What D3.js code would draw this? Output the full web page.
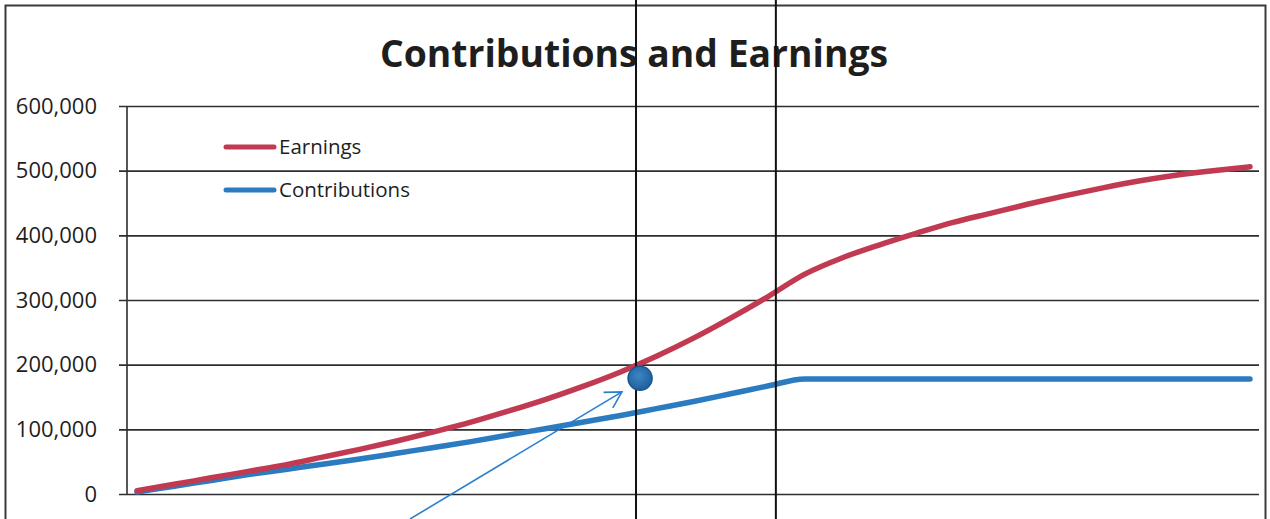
<!DOCTYPE html>
<html>
<head>
<meta charset="utf-8">
<script src="https://cdn.jsdelivr.net/npm/d3@7"></script>
<style>
  body { margin: 0; background: #fff; }
  svg { display: block; }
</style>
</head>
<body>
<script>
// yearly points (index 0..30)
var years = d3.range(0, 31);
var earnings = [5000, 15000, 25000, 35000, 45000, 57000, 69000, 82000, 96000, 111000,
  128000, 146000, 166000, 188000, 213000, 241000, 272000, 305000, 340000,
  365000, 385000, 403000, 420000, 434000, 448000, 461000, 473000, 484000, 493000, 500000, 506000];
var contributions = [3000, 12000, 21000, 30000, 38000, 46000, 54000, 63000, 72000, 81000,
  91000, 101000, 111000, 121000, 132000, 143000, 155000, 167000, 178000,
  178000, 178000, 178000, 178000, 178000, 178000, 178000, 178000, 178000, 178000, 178000, 178000];
var yTicks = [0, 100000, 200000, 300000, 400000, 500000, 600000];

// hand-drawn marks on the printout, in chart units
var markerLines = [13.45, 17.22];
var dotPoint = {x: 13.56, y: 179000};
var arrowFrom = {x: 7.36, y: -38600};
var arrowTo = {x: 13.07, y: 158000};

var width = 1270, height = 519;
var margin = {top: 106, right: 20, bottom: 25, left: 127};

var x = d3.scaleLinear().domain([0, 30]).range([137, 1250]);
var y = d3.scaleLinear().domain([0, 600000]).range([494, 106]);

var svg = d3.select("body").append("svg")
    .attr("width", width)
    .attr("height", height)
    .style("font-family", "'Open Sans', 'Noto Sans', sans-serif");

// outer border of the chart box
svg.append("rect")
    .attr("x", 5.5).attr("y", 5.5)
    .attr("width", 1260).attr("height", 540)
    .attr("fill", "none")
    .attr("stroke", "#3a3a3a")
    .attr("stroke-width", 2);

svg.append("text")
    .attr("x", 634)
    .attr("y", 67)
    .attr("text-anchor", "middle")
    .attr("font-size", 38)
    .attr("font-weight", 700)
    .attr("fill", "#1e1e1e")
    .attr("textLength", 508)
    .attr("lengthAdjust", "spacingAndGlyphs")
    .text("Contributions and Earnings");

// y axis with grid lines
var yAxis = d3.axisLeft(y)
    .tickValues(yTicks)
    .tickSize(-(1259 - margin.left))
    .tickPadding(30)
    .tickFormat(d3.format(","));

svg.append("g")
    .attr("transform", "translate(" + margin.left + ",0)")
    .call(yAxis)
    .call(g => g.select(".domain").remove())
    .call(g => g.selectAll(".tick line")
        .attr("x1", -8)
        .attr("stroke", "#2e2e2e")
        .attr("stroke-width", 1.6))
    .call(g => g.selectAll(".tick text")
        .attr("font-size", 22)
        .attr("fill", "#1e1e1e")
        .attr("font-family", "'Open Sans', sans-serif"));

svg.append("line")
    .attr("x1", margin.left).attr("x2", margin.left)
    .attr("y1", y(600000)).attr("y2", y(0))
    .attr("stroke", "#2e2e2e")
    .attr("stroke-width", 1.6);

var line = d3.line()
    .x((d, i) => x(years[i]))
    .y(d => y(d))
    .curve(d3.curveMonotoneX);

svg.append("path")
    .datum(contributions)
    .attr("fill", "none")
    .attr("stroke", "#2b7bc1")
    .attr("stroke-width", 5.5)
    .attr("stroke-linecap", "round")
    .attr("stroke-linejoin", "round")
    .attr("d", line);

svg.append("path")
    .datum(earnings)
    .attr("fill", "none")
    .attr("stroke", "#c13a51")
    .attr("stroke-width", 5.5)
    .attr("stroke-linecap", "round")
    .attr("stroke-linejoin", "round")
    .attr("d", line);

// legend
var legend = svg.append("g")
    .selectAll("g")
    .data([{name: "Earnings", color: "#c13a51"}, {name: "Contributions", color: "#2b7bc1"}])
    .join("g")
    .attr("transform", (d, i) => "translate(226," + (147 + i * 43) + ")");

legend.append("line")
    .attr("x1", 0).attr("x2", 48)
    .attr("stroke", d => d.color)
    .attr("stroke-width", 5)
    .attr("stroke-linecap", "round");

legend.append("text")
    .attr("x", 53)
    .attr("dy", "0.35em")
    .attr("font-size", 20.5)
    .attr("fill", "#1e1e1e")
    .text(d => d.name);

// pen marks
svg.append("g")
    .selectAll("line")
    .data(markerLines)
    .join("line")
    .attr("x1", d => x(d)).attr("x2", d => x(d))
    .attr("y1", 0).attr("y2", height)
    .attr("stroke", "#111")
    .attr("stroke-width", 2);

svg.append("defs").append("marker")
    .attr("id", "arrowhead")
    .attr("viewBox", "-18 -10 20 20")
    .attr("markerUnits", "userSpaceOnUse")
    .attr("markerWidth", 20)
    .attr("markerHeight", 20)
    .attr("refX", 0).attr("refY", 0)
    .attr("orient", "auto")
  .append("path")
    .attr("d", "M-16,-9L0,0L-16,9")
    .attr("fill", "none")
    .attr("stroke", "#2a7fd0")
    .attr("stroke-width", 1.6);

svg.append("line")
    .attr("x1", x(arrowFrom.x)).attr("y1", y(arrowFrom.y))
    .attr("x2", x(arrowTo.x)).attr("y2", y(arrowTo.y))
    .attr("stroke", "#2a7fd0")
    .attr("stroke-width", 1.6)
    .attr("marker-end", "url(#arrowhead)");

var grad = svg.select("defs").append("radialGradient")
    .attr("id", "dotGrad")
    .attr("cx", "45%").attr("cy", "40%").attr("r", "60%");
grad.append("stop").attr("offset", "0%").attr("stop-color", "#3c86c4");
grad.append("stop").attr("offset", "100%").attr("stop-color", "#1f5f9c");

svg.append("circle")
    .attr("cx", x(dotPoint.x))
    .attr("cy", y(dotPoint.y))
    .attr("r", 12)
    .attr("fill", "url(#dotGrad)")
    .attr("stroke", "#1b5690")
    .attr("stroke-width", 1.5);
</script>
</body>
</html>
